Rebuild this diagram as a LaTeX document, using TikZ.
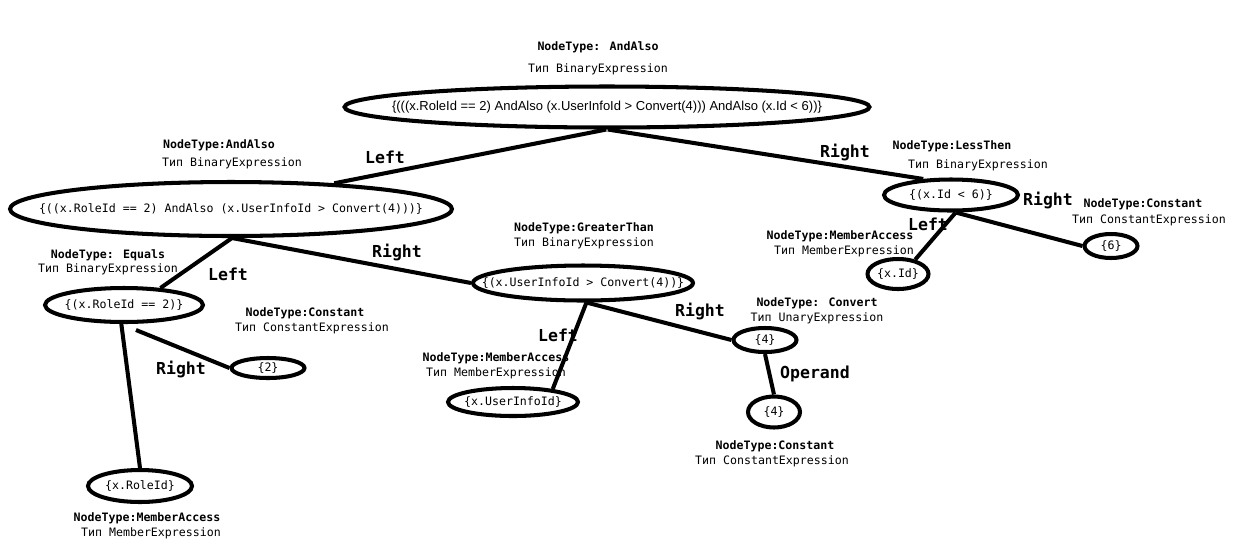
\documentclass[tikz,border=0pt]{standalone}
\usepackage{fontspec}
\setmainfont{DejaVu Sans Mono}
\newfontfamily\rootfont{Liberation Sans}
\usetikzlibrary{shapes.geometric}
\tikzset{
  expr/.style={ellipse, draw, line width=2.3pt, inner sep=0pt},
  txt/.style={font=\fontsize{6.6}{7}\selectfont, inner sep=0pt},
  edge/.style={line width=2.3pt},
  side/.style={font=\fontsize{9.4}{10}\selectfont\bfseries},
  kind/.style={font=\fontsize{6.6}{7}\selectfont\bfseries},
  type/.style={font=\fontsize{6.6}{7}\selectfont}
}
\begin{document}
\begin{tikzpicture}[x=0.02cm, y=-0.02cm]
  \useasboundingbox (0,0) rectangle (1251,549);
  % expression nodes
  \node[expr, minimum width=10.5cm, minimum height=0.82cm] (root) at (607,107) {};
  \node[expr, minimum width=8.84cm, minimum height=1.08cm] (andl) at (231,209) {};
  \node[expr, minimum width=2.68cm, minimum height=0.62cm] (less) at (951,195) {};
  \node[expr, minimum width=1.06cm, minimum height=0.48cm] (six) at (1111,246) {};
  \node[expr, minimum width=1.22cm, minimum height=0.6cm] (xid) at (898,274) {};
  \node[expr, minimum width=4.4cm, minimum height=0.7cm] (gt) at (583,283) {};
  \node[expr, minimum width=3.16cm, minimum height=0.68cm] (eq) at (124,305) {};
  \node[expr, minimum width=1.46cm, minimum height=0.4cm] (two) at (268,368) {};
  \node[expr, minimum width=2.08cm, minimum height=0.64cm] (role) at (140,486) {};
  \node[expr, minimum width=2.6cm, minimum height=0.56cm] (user) at (513,402) {};
  \node[expr, minimum width=1.26cm, minimum height=0.48cm] (conv) at (765,340) {};
  \node[expr, minimum width=1.04cm, minimum height=0.62cm] (four) at (774,412) {};
  % expression texts
  \node[txt, font=\rootfont\fontsize{7.4}{8}\selectfont] (roott) at (root) {\{(((x.RoleId == 2) AndAlso (x.UserInfoId > Convert(4))) AndAlso (x.Id < 6))\}};
  \node[txt] (andlt) at (andl) {\{((x.RoleId == 2) AndAlso (x.UserInfoId > Convert(4)))\}};
  \node[txt] (lesst) at (less) {\{(x.Id < 6)\}};
  \node[txt] (sixt) at (six) {\{6\}};
  \node[txt] (xidt) at (xid) {\{x.Id\}};
  \node[txt] (gtt) at (gt) {\{(x.UserInfoId > Convert(4))\}};
  \node[txt] (eqt) at (eq) {\{(x.RoleId == 2)\}};
  \node[txt] (twot) at (two) {\{2\}};
  \node[txt] (rolet) at (role) {\{x.RoleId\}};
  \node[txt] (usert) at (user) {\{x.UserInfoId\}};
  \node[txt] (convt) at (conv) {\{4\}};
  \node[txt] (fourt) at (four) {\{4\}};
  % connectors
  \draw[edge] (root.268) -- (andl.14);
  \draw[edge] (root.272) -- (less.150);
  \draw[edge] (andl.272) -- (eq.25);
  \draw[edge] (andl.272) -- (gt.west);
  \draw[edge] (gt.280) -- (user.18);
  \draw[edge] (gt.280) -- (conv.west);
  \draw[edge] (eq.262) -- (role.north);
  \coordinate (eqfoot) at (136,330);
  \draw[edge] (eqfoot) -- (two.west);
  \draw[edge] (conv.south) -- (four.north);
  \draw[edge] (less.285) -- (xid.40);
  \draw[edge] (less.285) -- (six.west);
  % side labels
  \node[side] (l1) at (385,157) {Left};
  \node[side] (r1) at (845,152) {Right};
  \node[side] (l2) at (228,274) {Left};
  \node[side] (r2) at (397,252) {Right};
  \node[side] (l3) at (558,335) {Left};
  \node[side] (r3) at (700,311) {Right};
  \node[side] (r4) at (181,369) {Right};
  \node[side] (l4) at (928,224) {Left};
  \node[side] (r5) at (1048,200) {Right};
  \node[side] (op) at (815,374) {Operand};
  % node types
  \node[kind] (k1) at (598,47) {NodeType: AndAlso};
  \node[type] (t1) at (598,69) {Тип BinaryExpression};
  \node[kind] (k2) at (219,145) {NodeType:AndAlso};
  \node[type] (t2) at (232,163) {Тип BinaryExpression};
  \node[kind] (k3) at (952,146) {NodeType:LessThen};
  \node[type] (t3) at (978,165) {Тип BinaryExpression};
  \node[kind] (k4) at (1143,204) {NodeType:Constant};
  \node[type] (t4) at (1149,220) {Тип ConstantExpression};
  \node[kind] (k5) at (840,236) {NodeType:MemberAccess};
  \node[type] (t5) at (844,251) {Тип MemberExpression};
  \node[kind] (k6) at (584,228) {NodeType:GreaterThan};
  \node[type] (t6) at (584,243) {Тип BinaryExpression};
  \node[kind] (k7) at (108,255) {NodeType: Equals};
  \node[type] (t7) at (108,269) {Тип BinaryExpression};
  \node[kind] (k8) at (305,313) {NodeType:Constant};
  \node[type] (t8) at (312,328) {Тип ConstantExpression};
  \node[kind] (k9) at (817,303) {NodeType: Convert};
  \node[type] (t9) at (817,318) {Тип UnaryExpression};
  \node[kind] (k10) at (496,358) {NodeType:MemberAccess};
  \node[type] (t10) at (496,373) {Тип MemberExpression};
  \node[kind] (k11) at (775,446) {NodeType:Constant};
  \node[type] (t11) at (772,461) {Тип ConstantExpression};
  \node[kind] (k12) at (147,518) {NodeType:MemberAccess};
  \node[type] (t12) at (151,533) {Тип MemberExpression};
\end{tikzpicture}
\end{document}
